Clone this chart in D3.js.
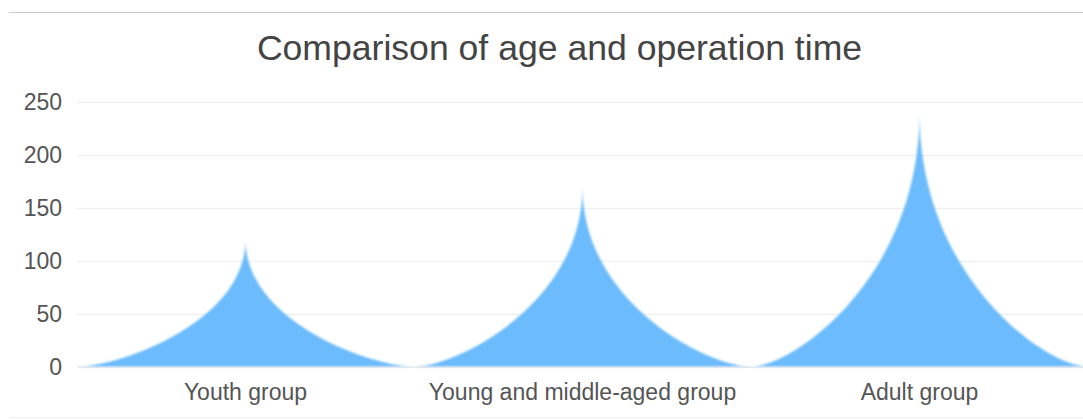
<!DOCTYPE html>
<html>
<head>
<meta charset="utf-8">
<script src="https://cdn.jsdelivr.net/npm/d3@7"></script>
<style>
  html, body { margin: 0; padding: 0; background: #ffffff; }
  svg { display: block; }
</style>
</head>
<body>
<svg id="chart" width="1083" height="419"></svg>
<script>
const categories = ["Youth group", "Young and middle-aged group", "Adult group"];
const values = [120, 170, 240];
const yTicks = [0, 50, 100, 150, 200, 250];
const titleText = "Comparison of age and operation time";

const W = 1083, H = 419;
const svg = d3.select("#chart");
const fontFam = "'Liberation Sans', Arial, Helvetica, sans-serif";

// frame lines
svg.append("line").attr("x1", 9).attr("x2", W).attr("y1", 12.5).attr("y2", 12.5)
  .attr("stroke", "#c9c9c9").attr("stroke-width", 1);
svg.append("line").attr("x1", 9).attr("x2", W).attr("y1", 417.5).attr("y2", 417.5)
  .attr("stroke", "#f1f1f1").attr("stroke-width", 1);

const x = d3.scaleBand().domain(categories).range([77, 1088]).paddingInner(0).paddingOuter(0);
const y = d3.scaleLinear().domain([0, 250]).range([366.7, 102]);

// title
svg.append("text").attr("x", 559.5).attr("y", 60).attr("text-anchor", "middle")
  .attr("font-family", fontFam).attr("font-size", 35.6).attr("fill", "#444")
  .text(titleText);

// y axis with grid
const yAxis = svg.append("g").attr("transform", "translate(77,0)")
  .call(d3.axisLeft(y).tickValues(yTicks).tickSizeInner(-(1083 - 77)).tickSizeOuter(0).tickPadding(15));
yAxis.select(".domain").remove();
yAxis.selectAll(".tick line").attr("stroke", "#ececec").attr("stroke-width", 1);
yAxis.selectAll(".tick text").attr("font-family", fontFam).attr("font-size", 23).attr("fill", "#555");

// defs: soften edges like reference
const defs = svg.append("defs");
const f = defs.append("filter").attr("id", "soft").attr("x", "-10%").attr("y", "-10%").attr("width", "120%").attr("height", "120%");
f.append("feGaussianBlur").attr("stdDeviation", 0.9);

// pictorial "peak" shapes: concave cusp, cubic sides
// (u = offset from centre as fraction of half band, h = fraction of height)
const ctrlTop = 0.35, ctrlBase = 0.75;
function peakPath(x0, bw, y0, yt) {
  const cx = x0 + bw / 2, hw = bw / 2;
  const px = (u, s) => cx + s * u * hw;
  const py = h => y0 - h * (y0 - yt);
  return `M${px(1, -1)},${py(0)} ` +
    `C${px(ctrlBase, -1)},${py(0)} ${px(0, -1)},${py(ctrlTop)} ${px(0, -1)},${py(1)} ` +
    `C${px(0, 1)},${py(ctrlTop)} ${px(ctrlBase, 1)},${py(0)} ${px(1, 1)},${py(0)} Z`;
}
svg.append("g").attr("filter", "url(#soft)")
  .selectAll("path").data(categories).join("path")
  .attr("d", (c, i) => peakPath(x(c), x.bandwidth(), y(0), y(values[i])))
  .attr("fill", "#6cbbfc");

// x axis
const xAxis = svg.append("g").attr("transform", `translate(0,${y(0)})`)
  .call(d3.axisBottom(x).tickSize(0).tickPadding(17));
xAxis.select(".domain").attr("stroke", "#e3e6ee").attr("d", `M77,0.5H${W}`);
xAxis.selectAll(".tick text").attr("font-family", fontFam).attr("font-size", 23).attr("fill", "#555");
</script>
</body>
</html>
